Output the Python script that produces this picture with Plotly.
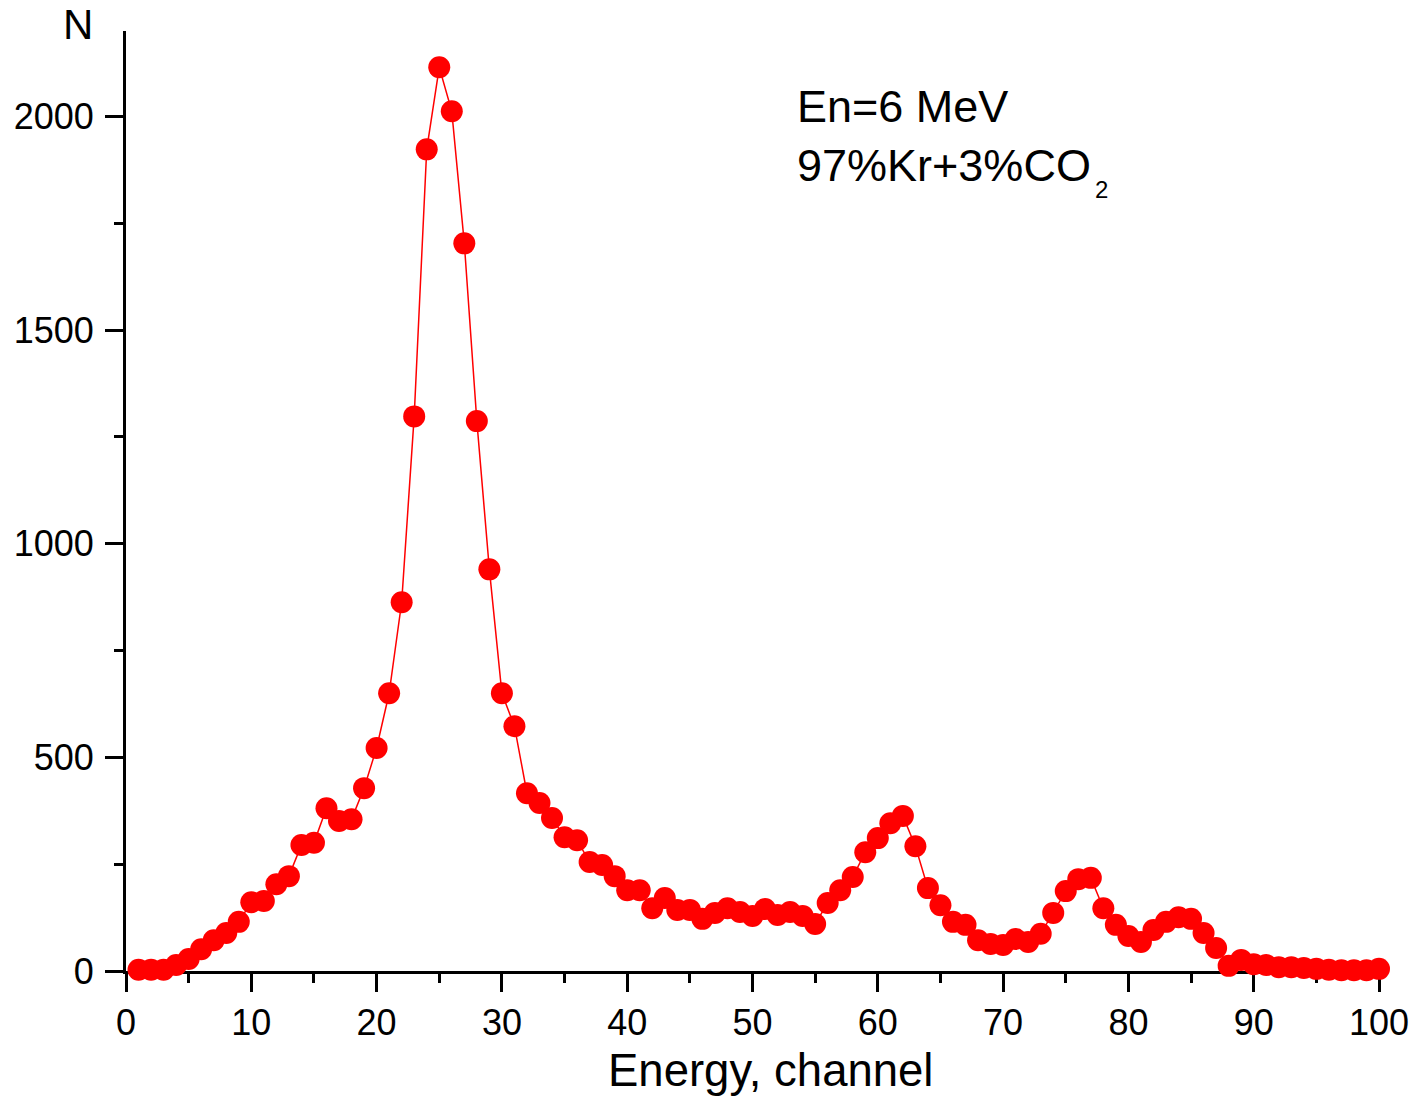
import plotly.graph_objects as go

# Pulse-height spectrum, counts per channel
channels = list(range(1, 101))
counts = [
    3, 3, 3, 14, 28, 51, 72, 89, 115, 161,
    164, 203, 222, 295, 300, 381, 351, 355, 428, 522,
    650, 863, 1298, 1923, 2115, 2012, 1703, 1287, 940, 650,
    573, 416, 393, 358, 313, 306, 255, 248, 222, 189,
    189, 147, 171, 143, 143, 122, 136, 147, 138, 129,
    145, 131, 138, 129, 110, 159, 189, 220, 278, 311,
    346, 363, 292, 194, 154, 115, 108, 72, 63, 61,
    75, 68, 87, 136, 187, 215, 218, 147, 108, 82,
    68, 96, 115, 126, 122, 89, 54, 12, 26, 16,
    14, 9, 9, 7, 5, 3, 2, 2, 2, 5,
]
x_ticks = list(range(0, 101, 10))
y_ticks = [0, 500, 1000, 1500, 2000]

FONT = "Liberation Sans, Arial, sans-serif"

fig = go.Figure()
fig.add_trace(go.Scatter(
    x=channels, y=counts,
    mode="lines+markers",
    line=dict(color="#ff0000", width=1.5),
    marker=dict(color="#ff0000", size=22, line=dict(width=0)),
    cliponaxis=False,
    showlegend=False,
))

axis_common = dict(
    showline=True, linecolor="black", linewidth=3,
    ticks="outside", ticklen=18, tickwidth=3, tickcolor="black",
    showgrid=False, zeroline=False, mirror=False, automargin=False,
    tickfont=dict(family=FONT, size=36, color="black"),
    layer="below traces",
)

fig.update_xaxes(
    range=[0, 100], tickvals=x_ticks,
    minor=dict(dtick=5, ticklen=9, tickwidth=3, tickcolor="black", ticks="outside"),
    **axis_common,
)
fig.update_yaxes(
    range=[0, 2200], tickvals=y_ticks,
    minor=dict(dtick=250, ticklen=9, tickwidth=3, tickcolor="black", ticks="outside"),
    ticklabelstandoff=4,
    **axis_common,
)

fig.add_annotation(
    text="Energy, channel", xref="paper", yref="paper",
    x=0.514, y=-0.0770, xanchor="center", yanchor="top", showarrow=False,
    font=dict(family=FONT, size=45.5, color="black"),
)
fig.add_annotation(
    text="N", xref="paper", yref="paper",
    x=-0.0383, y=1.0064, xanchor="center", yanchor="middle", showarrow=False,
    font=dict(family=FONT, size=42, color="black"),
)
fig.add_annotation(
    text="En=6 MeV<br>97%Kr+3%CO", xref="x", yref="y",
    x=53.4, y=1955, xanchor="left", yanchor="middle", align="left", showarrow=False,
    font=dict(family=FONT, size=45, color="black"),
)
# subscript of CO2, set lower and smaller than a default <sub>
fig.add_annotation(
    text="2", xref="x", yref="y",
    x=77.2, y=1829, xanchor="left", yanchor="middle", showarrow=False,
    font=dict(family=FONT, size=24, color="black"),
)

fig.update_layout(
    width=1420, height=1100,
    margin=dict(l=126, r=41, t=31, b=129),
    paper_bgcolor="white", plot_bgcolor="white",
    font=dict(family=FONT, color="black"),
)

fig.write_html("out.html")
